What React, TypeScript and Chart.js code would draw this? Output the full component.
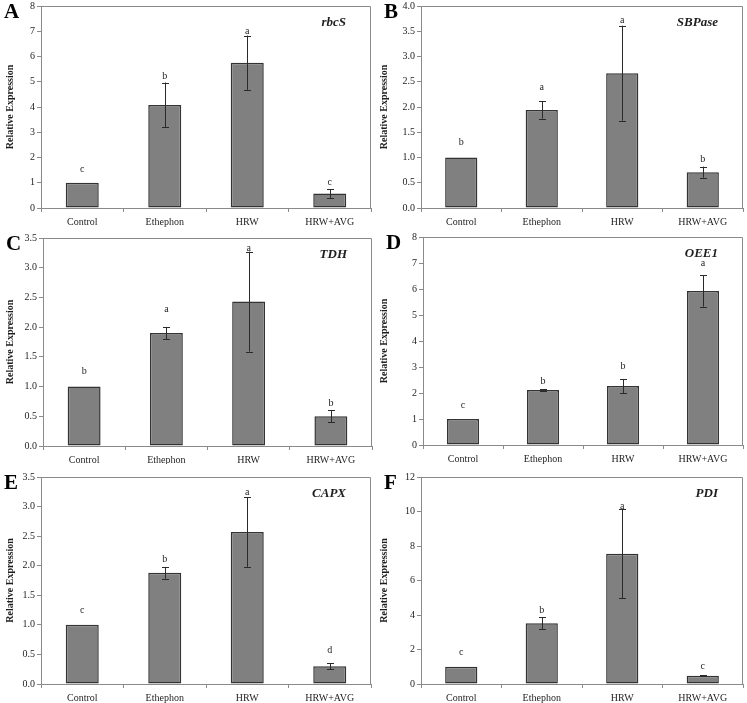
import React, { useEffect, useRef } from 'react';
import { Chart, registerables } from 'chart.js';

Chart.register(...registerables);

const categories = ['Control', 'Ethephon', 'HRW', 'HRW+AVG'];

const rbcSValues = [1.0, 4.08, 5.75, 0.57];
const rbcSErrors = [0, 0.89, 1.08, 0.17];
const rbcSLetters = ['c', 'b', 'a', 'c'];
const rbcSLetterY = [1.54, 5.21, 7.01, 1.01];

const sbpaseValues = [1.0, 1.94, 2.67, 0.71];
const sbpaseErrors = [0, 0.17, 0.94, 0.11];
const sbpaseLetters = ['b', 'a', 'a', 'b'];
const sbpaseLetterY = [1.29, 2.39, 3.71, 0.97];

const tdhValues = [1.0, 1.9, 2.43, 0.5];
const tdhErrors = [0, 0.1, 0.84, 0.1];
const tdhLetters = ['b', 'a', 'a', 'b'];
const tdhLetterY = [1.25, 2.3, 3.33, 0.72];

const oee1Values = [1.0, 2.12, 2.27, 5.92];
const oee1Errors = [0, 0.03, 0.27, 0.6];
const oee1Letters = ['c', 'b', 'b', 'a'];
const oee1LetterY = [1.54, 2.46, 3.04, 7.0];

const capxValues = [1.0, 1.88, 2.57, 0.3];
const capxErrors = [0, 0.1, 0.59, 0.05];
const capxLetters = ['c', 'b', 'a', 'd'];
const capxLetterY = [1.24, 2.11, 3.24, 0.57];

const pdiValues = [1.0, 3.52, 7.55, 0.48];
const pdiErrors = [0, 0.35, 2.57, 0.04];
const pdiLetters = ['c', 'b', 'a', 'c'];
const pdiLetterY = [1.84, 4.26, 10.3, 1.04];

const SERIF = '"Liberation Serif", "Times New Roman", serif';
const TEXT = '#1e1e1e';
const FRAME = '#8a8a8a';

type Panel = {
  tag: string;
  gene: string;
  values: number[];
  errors: number[];
  letters: string[];
  letterY: number[];
  max: number;
  step: number;
  decimals: number;
  x: number;
  y: number;
  w: number;
  h: number;
  left: number;
  top: number;
  rightPad: number;
  bottom: number;
};

const panels: Panel[] = [
  { tag: 'A', gene: 'rbcS', values: rbcSValues, errors: rbcSErrors, letters: rbcSLetters, letterY: rbcSLetterY, max: 8, step: 1, decimals: 0, x: 0, y: 0, w: 374, h: 232, left: 41, top: 6, rightPad: 3, bottom: 208 },
  { tag: 'B', gene: 'SBPase', values: sbpaseValues, errors: sbpaseErrors, letters: sbpaseLetters, letterY: sbpaseLetterY, max: 4, step: 0.5, decimals: 1, x: 374, y: 0, w: 373, h: 232, left: 47, top: 6, rightPad: 4, bottom: 208 },
  { tag: 'C', gene: 'TDH', values: tdhValues, errors: tdhErrors, letters: tdhLetters, letterY: tdhLetterY, max: 3.5, step: 0.5, decimals: 1, x: 0, y: 232, w: 374, h: 232, left: 43, top: 6, rightPad: 2, bottom: 214 },
  { tag: 'D', gene: 'OEE1', values: oee1Values, errors: oee1Errors, letters: oee1Letters, letterY: oee1LetterY, max: 8, step: 1, decimals: 0, x: 374, y: 232, w: 373, h: 232, left: 49, top: 5, rightPad: 4, bottom: 213 },
  { tag: 'E', gene: 'CAPX', values: capxValues, errors: capxErrors, letters: capxLetters, letterY: capxLetterY, max: 3.5, step: 0.5, decimals: 1, x: 0, y: 464, w: 374, h: 239, left: 41, top: 13, rightPad: 3, bottom: 220 },
  { tag: 'F', gene: 'PDI', values: pdiValues, errors: pdiErrors, letters: pdiLetters, letterY: pdiLetterY, max: 12, step: 2, decimals: 0, x: 374, y: 464, w: 373, h: 239, left: 47, top: 13, rightPad: 4, bottom: 220 },
];

function PanelChart({ p }: { p: Panel }) {
  const ref = useRef<HTMLCanvasElement | null>(null);
  useEffect(() => {
    if (!ref.current) return;
    const overlay = {
      id: 'overlay' + p.tag,
      afterDatasetsDraw(chart: any) {
        const ctx = chart.ctx;
        const area = chart.chartArea;
        const xs = chart.scales.x;
        const ys = chart.scales.y;
        ctx.save();
        // frame (top & right)
        ctx.strokeStyle = FRAME;
        ctx.lineWidth = 1;
        ctx.beginPath();
        ctx.moveTo(Math.round(area.left) + 0.5, Math.round(area.top) + 0.5);
        ctx.lineTo(Math.round(area.right) - 0.5, Math.round(area.top) + 0.5);
        ctx.lineTo(Math.round(area.right) - 0.5, Math.round(area.bottom));
        ctx.stroke();
        // error bars
        ctx.strokeStyle = '#2a2a2a';
        ctx.lineWidth = 1;
        p.values.forEach((v, i) => {
          const e = p.errors[i];
          if (!e) return;
          const cx = Math.round(xs.getPixelForValue(i)) + 0.5;
          const y1 = ys.getPixelForValue(v + e);
          const y2 = ys.getPixelForValue(v - e);
          ctx.beginPath();
          ctx.moveTo(cx, y1);
          ctx.lineTo(cx, y2);
          ctx.moveTo(cx - 3.5, Math.round(y1) + 0.5);
          ctx.lineTo(cx + 3.5, Math.round(y1) + 0.5);
          ctx.moveTo(cx - 3.5, Math.round(y2) + 0.5);
          ctx.lineTo(cx + 3.5, Math.round(y2) + 0.5);
          ctx.stroke();
        });
        // significance letters
        ctx.fillStyle = TEXT;
        ctx.font = '10px ' + SERIF;
        ctx.textAlign = 'center';
        ctx.textBaseline = 'middle';
        p.letters.forEach((l, i) => {
          ctx.fillText(l, xs.getPixelForValue(i), ys.getPixelForValue(p.letterY[i]));
        });
        // gene name
        ctx.font = 'italic bold 13px ' + SERIF;
        ctx.textAlign = 'right';
        ctx.textBaseline = 'alphabetic';
        ctx.fillText(p.gene, area.right - 25, area.top + 20);
        // panel tag
        ctx.font = 'bold 21px ' + SERIF;
        ctx.textAlign = 'left';
        ctx.fillStyle = '#000';
        ctx.fillText(p.tag, area.left - 37, area.top + 12);
        ctx.restore();
      },
    };
    const chart = new Chart(ref.current, {
      type: 'bar',
      data: {
        labels: categories,
        datasets: [
          {
            data: p.values,
            backgroundColor: '#808080',
            borderColor: '#333333',
            borderWidth: 1.5,
            borderSkipped: false,
            barPercentage: 0.4,
            categoryPercentage: 1,
          },
        ],
      },
      options: {
        animation: false,
        responsive: false,
        maintainAspectRatio: false,
        layout: { padding: { top: p.top, right: p.rightPad, left: 0, bottom: 0 } },
        plugins: { legend: { display: false }, tooltip: { enabled: false }, title: { display: false } },
        scales: {
          x: {
            afterFit: (s: any) => {
              s.height = p.h - p.bottom;
            },
            grid: { drawOnChartArea: false, drawTicks: true, tickLength: 4, color: FRAME, offset: true },
            border: { display: true, color: FRAME, width: 1 },
            ticks: { color: TEXT, font: { family: SERIF, size: 10 }, padding: 4, maxRotation: 0 },
          },
          y: {
            min: 0,
            max: p.max,
            afterFit: (s: any) => {
              s.width = p.left;
            },
            grid: { drawOnChartArea: false, drawTicks: true, tickLength: 4, color: FRAME },
            border: { display: true, color: FRAME, width: 1 },
            ticks: {
              stepSize: p.step,
              color: TEXT,
              font: { family: SERIF, size: 10, lineHeight: 0.6 },
              padding: 2,
              callback: (v: any) => Number(v).toFixed(p.decimals),
            },
            title: {
              display: true,
              text: 'Relative Expression',
              color: TEXT,
              font: { family: SERIF, size: 10, weight: 'bold' },
              padding: { top: 4, bottom: 0 },
            },
          },
        },
      } as any,
      plugins: [overlay],
    });
    return () => chart.destroy();
  }, [p]);
  return (
    <div style={{ position: 'absolute', left: p.x, top: p.y, width: p.w, height: p.h }}>
      <canvas ref={ref} width={p.w} height={p.h} style={{ width: p.w, height: p.h, display: 'block' }} />
    </div>
  );
}

export default function App() {
  return (
    <div style={{ position: 'absolute', left: 0, top: 0, width: 747, height: 703, background: '#fff' }}>
      {panels.map((p) => (
        <PanelChart key={p.tag} p={p} />
      ))}
    </div>
  );
}
